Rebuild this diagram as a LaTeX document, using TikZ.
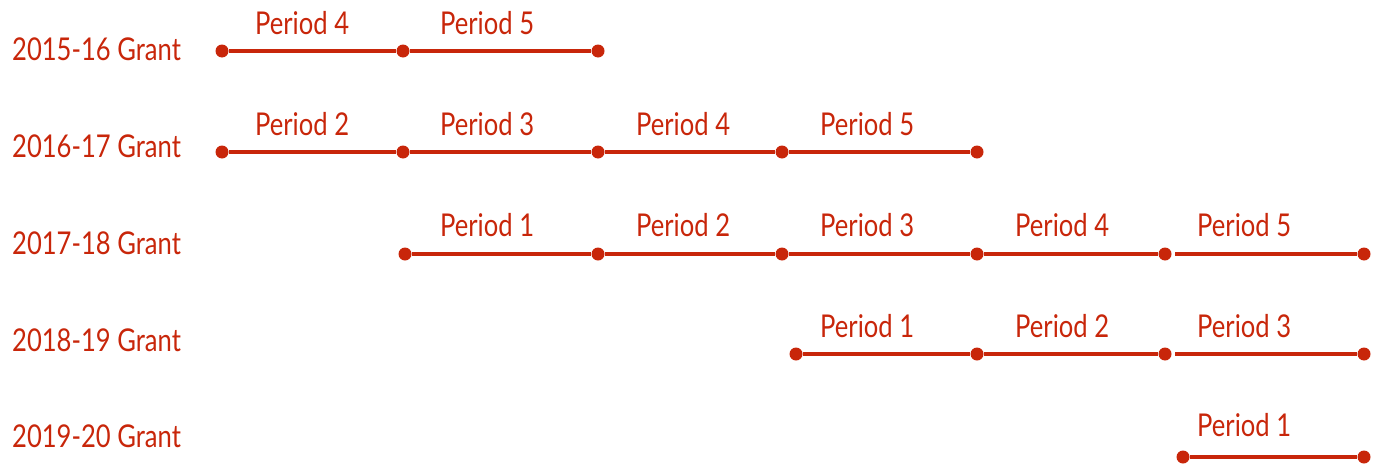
\documentclass[tikz,border=0pt]{standalone}
\usepackage{fontspec}
\setmainfont[FakeStretch=0.815]{Lato}
\definecolor{grantred}{RGB}{200,38,10}
\begin{document}
\begin{tikzpicture}[x=1pt,y=-1pt,
  every node/.style={text=grantred,font=\fontsize{31.4}{33}\selectfont},
  dot/.style={circle,fill=grantred,inner sep=0pt,minimum size=13pt},
  seg/.style={draw=grantred,line width=4.6pt},
  gapseg/.style={seg,shorten <=3.5pt},
  lbl/.style={anchor=base west,inner sep=0pt},
  plbl/.style={anchor=base west,inner sep=0pt}]
\useasboundingbox (0,0) rectangle (1374,466);

% grant row labels
\node[lbl] (g1) at (12,60) {2015-16 Grant};
\node[lbl] (g2) at (12,157) {2016-17 Grant};
\node[lbl] (g3) at (12,254) {2017-18 Grant};
\node[lbl] (g4) at (12,351) {2018-19 Grant};
\node[lbl] (g5) at (12,447) {2019-20 Grant};

% 2015-16
\node[dot] (a0) at (222,51) {};
\node[dot] (a1) at (403,51) {};
\node[dot] (a2) at (598,51) {};
\draw[seg] (a0) -- (a1);
\draw[seg] (a1) -- (a2);
\node[plbl] (pa1) at (255,34) {Period 4};
\node[plbl] (pa2) at (440,34) {Period 5};

% 2016-17
\node[dot] (b0) at (222,152) {};
\node[dot] (b1) at (403,152) {};
\node[dot] (b2) at (598,152) {};
\node[dot] (b3) at (782,152) {};
\node[dot] (b4) at (977,152) {};
\draw[seg] (b0) -- (b1);
\draw[seg] (b1) -- (b2);
\draw[seg] (b2) -- (b3);
\draw[seg] (b3) -- (b4);
\node[plbl] (pb1) at (255,135) {Period 2};
\node[plbl] (pb2) at (440,135) {Period 3};
\node[plbl] (pb3) at (636,135) {Period 4};
\node[plbl] (pb4) at (820,135) {Period 5};

% 2017-18
\node[dot] (c0) at (405,254) {};
\node[dot] (c1) at (598,254) {};
\node[dot] (c2) at (782,254) {};
\node[dot] (c3) at (977,254) {};
\node[dot] (c4) at (1165,254) {};
\node[dot] (c5) at (1364,254) {};
\draw[seg] (c0) -- (c1);
\draw[seg] (c1) -- (c2);
\draw[seg] (c2) -- (c3);
\draw[seg] (c3) -- (c4);
\draw[gapseg] (c4) -- (c5);
\node[plbl] (pc1) at (440,236) {Period 1};
\node[plbl] (pc2) at (636,236) {Period 2};
\node[plbl] (pc3) at (820,236) {Period 3};
\node[plbl] (pc4) at (1015,236) {Period 4};
\node[plbl] (pc5) at (1197,236) {Period 5};

% 2018-19
\node[dot] (d0) at (796,354) {};
\node[dot] (d1) at (977,354) {};
\node[dot] (d2) at (1165,354) {};
\node[dot] (d3) at (1364,354) {};
\draw[seg] (d0) -- (d1);
\draw[seg] (d1) -- (d2);
\draw[gapseg] (d2) -- (d3);
\node[plbl] (pd1) at (820,337) {Period 1};
\node[plbl] (pd2) at (1015,337) {Period 2};
\node[plbl] (pd3) at (1197,337) {Period 3};

% 2019-20
\node[dot] (e0) at (1183,457) {};
\node[dot] (e1) at (1364,457) {};
\draw[seg] (e0) -- (e1);
\node[plbl] (pe1) at (1197,436) {Period 1};
\end{tikzpicture}
\end{document}
